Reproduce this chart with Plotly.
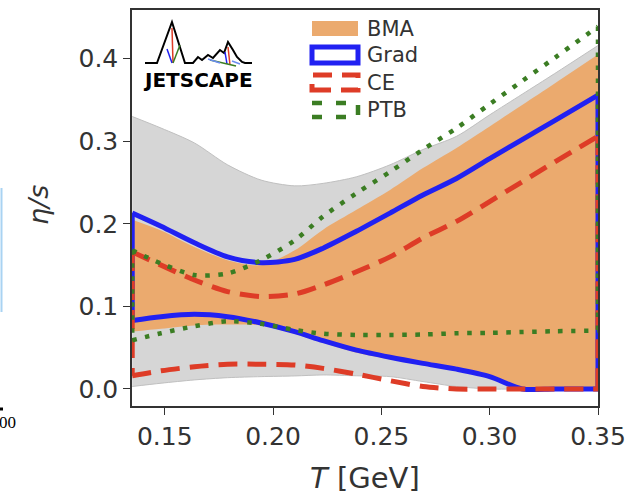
import plotly.graph_objects as go

# ---------------- data ----------------
T = [0.135, 0.1483, 0.1637, 0.179, 0.1945, 0.21, 0.2231, 0.2385, 0.254,
     0.2692, 0.2847, 0.30, 0.315, 0.33, 0.35]

prior_upper = [0.330, 0.316, 0.298, 0.2715, 0.253, 0.246, 0.249, 0.257, 0.2715,
               0.290, 0.306, 0.332, 0.357, 0.382, 0.416]
prior_lower = [0.003, 0.007, 0.011, 0.0137, 0.015, 0.0158, 0.017, 0.016, 0.015,
               0.009, 0.003, 0.0, 0.0, 0.0, 0.0]

bma_upper = [0.205, 0.192, 0.172, 0.156, 0.150, 0.168, 0.193, 0.217, 0.241,
             0.2675, 0.292, 0.318, 0.344, 0.370, 0.405]
bma_lower = [0.0695, 0.073, 0.077, 0.078, 0.077, 0.067, 0.056, 0.044, 0.036,
             0.029, 0.022, 0.013, 0.0, 0.0, 0.0]

grad_upper = [0.213, 0.197, 0.177, 0.160, 0.153, 0.157, 0.1705, 0.191, 0.213,
              0.235, 0.255, 0.279, 0.302, 0.325, 0.356]
grad_lower = [0.083, 0.0876, 0.0905, 0.0876, 0.080, 0.0695, 0.0585, 0.047, 0.0384,
              0.031, 0.024, 0.015, 0.0, 0.0, 0.0]

ce_upper = [0.166, 0.150, 0.132, 0.118, 0.112, 0.115, 0.126, 0.142, 0.160,
            0.183, 0.203, 0.227, 0.251, 0.275, 0.306]
ce_lower = [0.016, 0.022, 0.027, 0.030, 0.030, 0.029, 0.025, 0.018, 0.010,
            0.003, 0.0, 0.0, 0.0, 0.0, 0.0]

ptb_upper = [0.168, 0.152, 0.138, 0.140, 0.156, 0.180, 0.209, 0.237, 0.263,
             0.290, 0.316, 0.345, 0.373, 0.401, 0.439]
ptb_lower = [0.059, 0.0675, 0.076, 0.082, 0.079, 0.0715, 0.067, 0.0655, 0.0655,
             0.066, 0.0675, 0.068, 0.069, 0.070, 0.0707]

legend_labels = ["BMA", "Grad", "CE", "PTB"]
x_ticks = [0.15, 0.20, 0.25, 0.30, 0.35]
y_ticks = [0.0, 0.1, 0.2, 0.3, 0.4]

# ---------------- styles ----------------
GRAY = "rgb(214,214,214)"
GRAY_EDGE = "rgb(192,192,192)"
ORANGE = "rgb(235,170,110)"
BLUE = "#2121f2"
RED = "#de3c27"
GREEN = "#3b7d23"
TXT = "#333333"
FONT = "DejaVu Sans"
SMOOTH = 0.8

# plot area in pixels
L, R, TOP, BOT = 132, 598, 10, 406
W, H = R - L, BOT - TOP


def px(x):
    return (x - L) / W


def py(y):
    return (BOT - y) / H


fig = go.Figure()


def band(up, lo, color, edge=None):
    fig.add_trace(go.Scatter(x=T, y=lo, mode="lines", showlegend=False,
                             line=dict(color=edge or color, width=1 if edge else 0,
                                       shape="spline", smoothing=SMOOTH)))
    fig.add_trace(go.Scatter(x=T, y=up, mode="lines", fill="tonexty", fillcolor=color,
                             showlegend=False,
                             line=dict(color=edge or color, width=1 if edge else 0,
                                       shape="spline", smoothing=SMOOTH)))


def outline(up, lo, line):
    for ys in (up, lo):
        fig.add_trace(go.Scatter(x=T, y=ys, mode="lines", showlegend=False,
                                 line=dict(shape="spline", smoothing=SMOOTH, **line)))
    for i in (0, -1):
        fig.add_trace(go.Scatter(x=[T[i], T[i]], y=[up[i], lo[i]], mode="lines",
                                 showlegend=False, line=line))


band(prior_upper, prior_lower, GRAY, GRAY_EDGE)
band(bma_upper, bma_lower, ORANGE)
outline(grad_upper, grad_lower, dict(color=BLUE, width=5))
outline(ce_upper, ce_lower, dict(color=RED, width=5, dash="19px,10px"))
outline(ptb_upper, ptb_lower, dict(color=GREEN, width=4.5, dash="4.5px,8.5px"))

shapes = []
annotations = []

# ----- custom legend (matplotlib-style patch handles) -----
hx0, hx1 = 312, 358
rows = [(21, 36), (47, 63), (75, 90), (103, 117)]
styles = [
    dict(fillcolor=ORANGE, line=dict(width=0)),
    dict(fillcolor="rgba(0,0,0,0)", line=dict(color=BLUE, width=5)),
    dict(fillcolor="rgba(0,0,0,0)", line=dict(color=RED, width=5, dash="19px,10px")),
    dict(fillcolor="rgba(0,0,0,0)", line=dict(color=GREEN, width=4.5, dash="10px,14px")),
]
for (y0, y1), st, lab in zip(rows, styles, legend_labels):
    shapes.append(dict(type="rect", xref="paper", yref="paper",
                       x0=px(hx0), x1=px(hx1), y0=py(y1), y1=py(y0), **st))
    annotations.append(dict(text=lab, xref="paper", yref="paper", x=px(365), y=py((y0 + y1) / 2),
                            xanchor="left", yanchor="middle", showarrow=False,
                            font=dict(family=FONT, size=21, color=TXT)))

# ----- JETSCAPE logo (approximation) -----
mount = [(145, 63), (157, 63), (172, 22), (185, 63), (193, 63), (198, 57), (202, 60),
         (208, 55), (213, 58), (220, 50), (224, 53), (228, 42), (233, 50), (237, 57),
         (242, 62), (245, 63), (252, 63)]
path = "M " + " L ".join(f"{px(a):.4f},{py(b):.4f}" for a, b in mount)
shapes.append(dict(type="path", xref="paper", yref="paper", path=path,
                   line=dict(color="black", width=2)))
for (a0, b0, a1, b1, c) in [(172, 28, 173, 63, RED), (167, 49, 172, 63, BLUE),
                            (173, 63, 180, 45, GREEN), (228, 47, 230, 65, RED),
                            (225, 52, 227, 64, BLUE), (210, 60, 236, 66, GREEN),
                            (208, 59, 220, 63, "#6b8cf0"), (232, 61, 240, 64, "#6b8cf0")]:
    shapes.append(dict(type="line", xref="paper", yref="paper",
                       x0=px(a0), y0=py(b0), x1=px(a1), y1=py(b1),
                       line=dict(color=c, width=1.5)))
annotations.append(dict(text="<b>JETSCAPE</b>", xref="paper", yref="paper",
                        x=px(198), y=py(80.5), xanchor="center", yanchor="middle",
                        showarrow=False, font=dict(family=FONT, size=20, color="black")))

# ----- axis titles -----
annotations.append(dict(text="<i>T</i> [GeV]", xref="paper", yref="paper",
                        x=px(365), y=py(478), xanchor="center", yanchor="middle",
                        showarrow=False, font=dict(family=FONT, size=29, color=TXT)))
annotations.append(dict(text="<i>η/s</i>", xref="paper", yref="paper",
                        x=px(38), y=py(205), xanchor="center", yanchor="middle",
                        textangle=-90, showarrow=False,
                        font=dict(family=FONT, size=27, color=TXT)))

# ----- cropped neighbour-figure remnants at the left edge -----
shapes.append(dict(type="line", xref="paper", yref="paper",
                   x0=px(1.5), x1=px(1.5), y0=py(188), y1=py(312),
                   line=dict(color="#a9d3f2", width=2)))
shapes.append(dict(type="line", xref="paper", yref="paper",
                   x0=px(0), x1=px(3), y0=py(409), y1=py(409),
                   line=dict(color="black", width=3)))
annotations.append(dict(text="00", xref="paper", yref="paper",
                        x=px(18), y=py(423), xanchor="right", yanchor="middle",
                        showarrow=False, font=dict(family="Liberation Serif", size=17, color="black")))

axis_common = dict(showgrid=False, zeroline=False, showline=True, mirror=True,
                   linecolor=TXT, linewidth=1.5, ticks="outside", ticklen=7,
                   tickwidth=1.3, tickcolor=TXT, automargin=False,
                   tickfont=dict(family=FONT, size=25, color=TXT))

fig.update_layout(
    width=630, height=495,
    margin=dict(l=L, r=630 - R, t=TOP, b=495 - BOT, autoexpand=False),
    paper_bgcolor="white", plot_bgcolor="white",
    shapes=shapes, annotations=annotations,
    showlegend=False,
    xaxis=dict(range=[0.1349, 0.35], tickvals=x_ticks,
               ticktext=[f"{v:.2f}" for v in x_ticks], **axis_common),
    yaxis=dict(range=[-0.0206, 0.459], tickvals=y_ticks,
               ticktext=[f"{v:.1f}" for v in y_ticks], **axis_common),
)

fig.write_html("out.html", config={"displayModeBar": False},
               post_script="document.body.style.margin='0px';document.body.style.overflow='hidden';")
